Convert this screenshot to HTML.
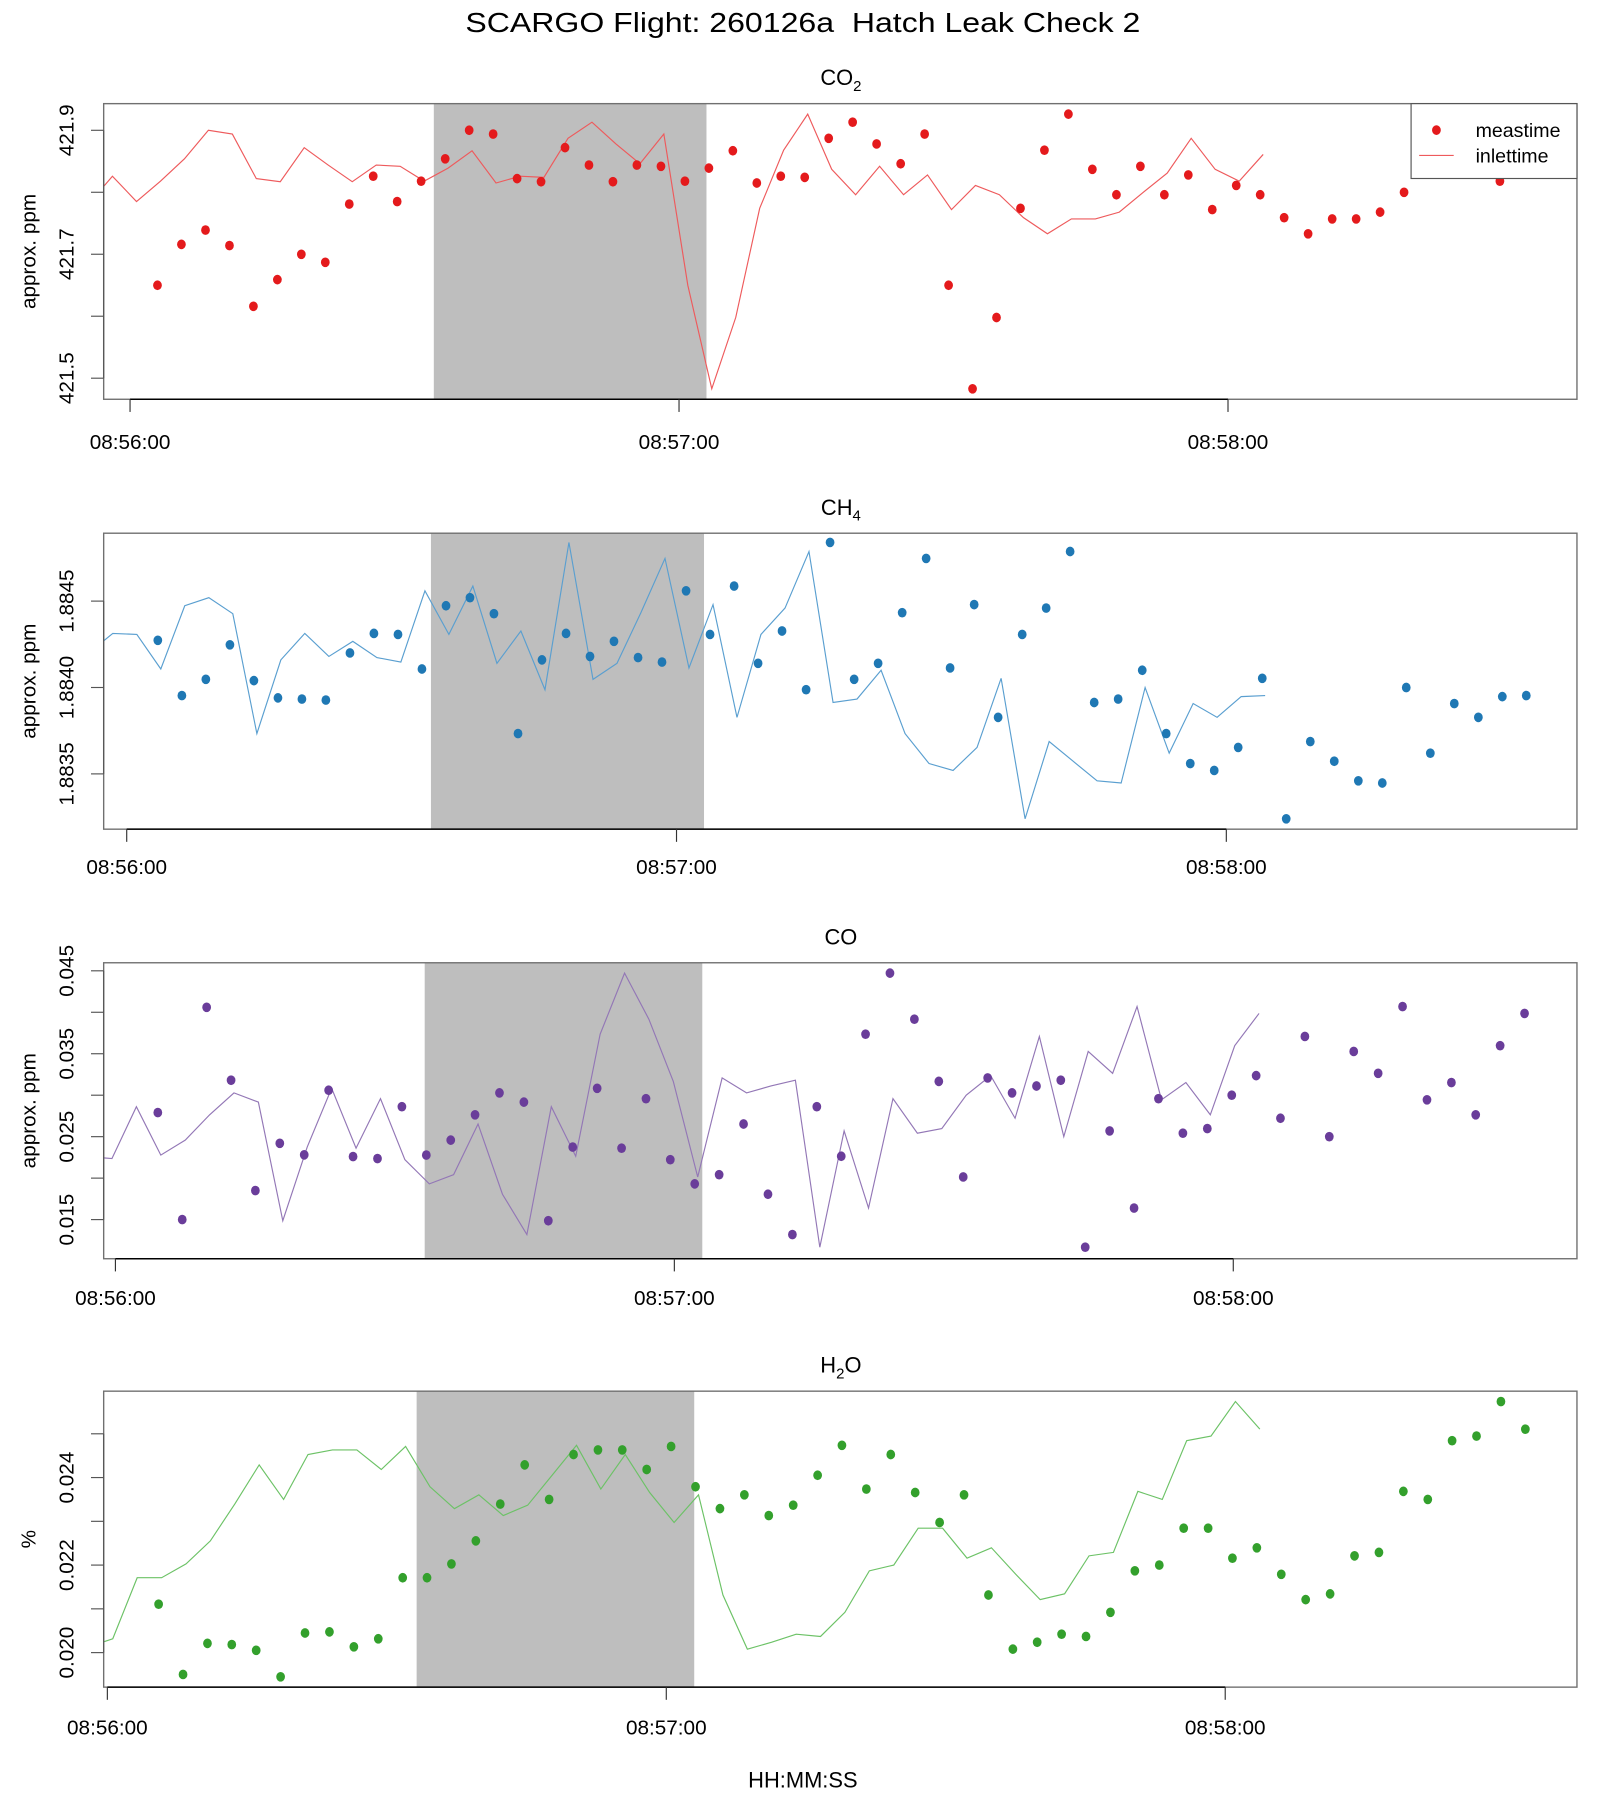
<!DOCTYPE html>
<html><head><meta charset="utf-8"><style>
html,body{margin:0;padding:0;background:#fff}
svg{display:block;font-family:"Liberation Sans",Arial,sans-serif}
</style></head><body>
<svg id="chart" width="1600" height="1800" viewBox="0 0 1389 1563" preserveAspectRatio="none" xmlns="http://www.w3.org/2000/svg">
<rect x="0" y="0" width="1389" height="1563" fill="#fff"/>
<text x="697" y="28" font-size="24" text-anchor="middle" textLength="586" lengthAdjust="spacingAndGlyphs">SCARGO Flight: 260126a&#160; Hatch Leak Check 2</text>
<text x="697" y="1552" font-size="19" text-anchor="middle">HH:MM:SS</text>
</svg>
<script>
// sample offsets (s) relative to first measurement
const sampleTimes = [0,2.62,5.24,7.86,10.48,13.1,15.72,18.34,20.96,23.58,26.2,28.82,31.44,34.06,36.68,39.3,41.92,44.54,47.16,49.78,52.4,55.02,57.64,60.26,62.88,65.5,68.12,70.74,73.36,75.98,78.6,81.22,83.84,86.46,89.08,91.7,94.32,96.94,99.56,102.18,104.8,107.42,110.04,112.66,115.28,117.9,120.52,123.14,125.76,128.38,131,133.62,136.24,138.86,141.48,144.1,146.72,149.34];
const inletLag = 28.5;
const shadeStart = 33.2, shadeEnd = 63.0;
const timeTicks = [0,60,120];
const timeTickLabels = ["08:56:00","08:57:00","08:58:00"];

const co2Values = [421.650,421.716,421.739,421.714,421.616,421.659,421.700,421.687,421.781,421.826,421.785,421.818,421.854,421.900,421.894,421.822,421.817,421.872,421.844,421.817,421.844,421.842,421.818,421.839,421.867,421.815,421.826,421.824,421.887,421.913,421.878,421.846,421.894,421.650,421.483,421.598,421.774,421.868,421.926,421.837,421.796,421.842,421.796,421.828,421.772,421.811,421.796,421.759,421.733,421.757,421.757,421.768,421.800,421.831,421.887,421.837,421.818,421.861];
const ch4Values = [1.884273,1.883953,1.884047,1.884247,1.884040,1.883940,1.883933,1.883927,1.884200,1.884313,1.884307,1.884107,1.884473,1.884520,1.884427,1.883733,1.884160,1.884313,1.884180,1.884267,1.884173,1.884147,1.884560,1.884307,1.884587,1.884140,1.884327,1.883987,1.884840,1.884047,1.884140,1.884433,1.884747,1.884113,1.884480,1.883827,1.884307,1.884460,1.884787,1.883913,1.883933,1.884100,1.883733,1.883560,1.883520,1.883653,1.884053,1.883240,1.883687,1.883573,1.883460,1.883447,1.884000,1.883620,1.883907,1.883827,1.883947,1.883953];
const coValues = [0.0279,0.0150,0.0406,0.0318,0.0185,0.0242,0.0228,0.0306,0.0226,0.02236,0.02861,0.02278,0.02458,0.02764,0.03028,0.02917,0.01486,0.02375,0.03083,0.02361,0.02958,0.02222,0.01931,0.02042,0.02653,0.01806,0.01319,0.02861,0.02264,0.03736,0.04472,0.03917,0.03167,0.02014,0.03208,0.03028,0.03111,0.03181,0.01167,0.02569,0.01639,0.02958,0.02542,0.02597,0.0300,0.03236,0.02722,0.03708,0.0250,0.03528,0.03264,0.04069,0.02944,0.03153,0.02764,0.03597,0.03986];
const h2oValues = [0.021105,0.0195,0.020211,0.020184,0.020053,0.019447,0.020447,0.020474,0.020132,0.020316,0.021711,0.021711,0.022026,0.022553,0.023395,0.024289,0.0235,0.024526,0.024632,0.024632,0.024184,0.024711,0.023789,0.023289,0.023605,0.023132,0.023368,0.024053,0.024737,0.023737,0.024526,0.023658,0.022974,0.023605,0.021316,0.020079,0.020237,0.020421,0.020368,0.020921,0.021868,0.022,0.022842,0.022842,0.022158,0.022395,0.021789,0.021211,0.021342,0.022211,0.02229,0.023684,0.0235,0.024842,0.024947,0.025737,0.025105];

const co2Ticks = [421.5,421.6,421.7,421.8,421.9];
const co2TickLabels = ["421.5","","421.7","","421.9"];
const ch4Ticks = [1.8835,1.8840,1.8845];
const ch4TickLabels = ["1.8835","1.8840","1.8845"];
const coTicks = [0.015,0.020,0.025,0.030,0.035,0.040,0.045];
const coTickLabels = ["0.015","","0.025","","0.035","","0.045"];
const h2oTicks = [0.020,0.021,0.022,0.023,0.024,0.025];
const h2oTickLabels = ["0.020","","0.022","","0.024",""];

const panels = [
 {key:"co2",values:co2Values,ticks:co2Ticks,labels:co2TickLabels,tStart:3.0,top:90,bottom:346.7,vTop:421.943,vBot:421.466,x0:112.9,pps:7.943,color:"#e41a1c",lineColor:"#ee5a5c",title:["CO","2"],ylab:"approx. ppm",xlabY:390,legend:true},
 {key:"ch4",values:ch4Values,ticks:ch4Ticks,labels:ch4TickLabels,tStart:3.4,top:463,bottom:720,vTop:1.884893,vBot:1.88318,x0:110,pps:7.955,color:"#1f78b4",lineColor:"#5a9fd0",title:["CH","4"],ylab:"approx. ppm",xlabY:759},
 {key:"co",values:coValues,ticks:coTicks,labels:coTickLabels,tStart:4.55,top:836,bottom:1093,vTop:0.04597,vBot:0.01028,x0:100.2,pps:8.087,color:"#6a3d9a",lineColor:"#9377b6",title:["CO",""],ylab:"approx. ppm",xlabY:1133},
 {key:"h2o",values:h2oValues,ticks:h2oTicks,labels:h2oTickLabels,tStart:5.5,top:1208,bottom:1465,vTop:0.025974,vBot:0.019211,x0:93.2,pps:8.087,color:"#33a02c",lineColor:"#6cc266",title:["H","2","O"],ylab:"%",xlabY:1506}
];
const NS="http://www.w3.org/2000/svg";
const svg=document.getElementById("chart");
const BL=90, BR=1369;
function mk(tag,attrs,parent){const e=document.createElementNS(NS,tag);for(const k in attrs)e.setAttribute(k,attrs[k]);(parent||svg).appendChild(e);return e;}

panels.forEach((p,pi)=>{
  const g=mk("g",{});
  
  
  const xs=t=>p.x0+t*p.pps;
  const ys=v=>p.top+(p.vTop-v)/(p.vTop-p.vBot)*(p.bottom-p.top);
  const cid="clip"+pi;
  const cp=mk("clipPath",{id:cid},g);
  mk("rect",{x:BL,y:p.top,width:BR-BL,height:p.bottom-p.top},cp);
  const sh=mk("rect",{x:xs(shadeStart),y:p.top,width:xs(shadeEnd)-xs(shadeStart),height:p.bottom-p.top,fill:"#bebebe"},g);
  
  
  let d="";
  p.values.forEach((v,i)=>{const t=p.tStart+sampleTimes[i]-inletLag;d+=(i?"L":"M")+xs(t).toFixed(1)+" "+ys(v).toFixed(1);});
  const ln=mk("path",{d:d,fill:"none",stroke:p.lineColor,"stroke-width":1,"clip-path":"url(#"+cid+")"},g);
  
  
  p.values.forEach((v,i)=>{
    const t=p.tStart+sampleTimes[i];
    const c=mk("ellipse",{cx:xs(t).toFixed(1),cy:ys(v).toFixed(1),rx:3.8,ry:4.2,fill:p.color},g);
    
    
  });
  const bx=mk("rect",{x:BL,y:p.top,width:BR-BL,height:p.bottom-p.top,fill:"none",stroke:"#707070","stroke-width":1.2},g);
  
  
  mk("line",{x1:xs(timeTicks[0]),x2:xs(timeTicks[timeTicks.length-1]),y1:p.bottom,y2:p.bottom,stroke:"#000","stroke-width":1.3},g);
  timeTicks.forEach((t,i)=>{
    mk("line",{x1:xs(t),x2:xs(t),y1:p.bottom,y2:p.bottom+11,stroke:"#333","stroke-width":1},g);
    const tl=mk("text",{x:xs(t),y:p.xlabY,"font-size":18,"text-anchor":"middle"},g);
    tl.textContent=timeTickLabels[i];
    
    
  });
  mk("line",{x1:BL,x2:BL,y1:ys(p.ticks[0]),y2:ys(p.ticks[p.ticks.length-1]),stroke:"#555","stroke-width":1},g);
  p.ticks.forEach((v,i)=>{
    const y=ys(v);
    mk("line",{x1:BL-11,x2:BL,y1:y,y2:y,stroke:"#555","stroke-width":1},g);
    if(p.labels[i]){
      const yl=mk("text",{x:64,y:y,"font-size":18,"text-anchor":"middle",transform:"rotate(-90 64 "+y+")"},g);
      yl.textContent=p.labels[i];
      
      
    }
  });
  const cy=(p.top+p.bottom)/2;
  const yt=mk("text",{x:31,y:cy,"font-size":18,"text-anchor":"middle",transform:"rotate(-90 31 "+cy+")"},g);
  yt.textContent=p.ylab;
  
  
  const tt=mk("text",{x:730,y:p.top-16,"font-size":19,"text-anchor":"middle"},g);
  
  
  tt.appendChild(document.createTextNode(p.title[0]));
  if(p.title[1]){const s=mk("tspan",{"font-size":13,dy:5},tt);s.textContent=p.title[1];}
  if(p.title[2]){const s=mk("tspan",{dy:-5},tt);s.textContent=p.title[2];}
  if(p.legend){
    const lg=mk("g",{},g);
    
    
    mk("rect",{x:1225,y:90,width:144,height:65,fill:"#fff",stroke:"#555","stroke-width":1},lg);
    mk("ellipse",{cx:1247,cy:113,rx:3.8,ry:4.2,fill:p.color},lg);
    const a=mk("text",{x:1281,y:119,"font-size":17},lg);a.textContent="meastime";
    
    
    mk("line",{x1:1232,x2:1262,y1:135,y2:135,stroke:p.lineColor,"stroke-width":1},lg);
    const b=mk("text",{x:1281,y:141,"font-size":17},lg);b.textContent="inlettime";
    
    
  }
});
</script>
</body></html>
